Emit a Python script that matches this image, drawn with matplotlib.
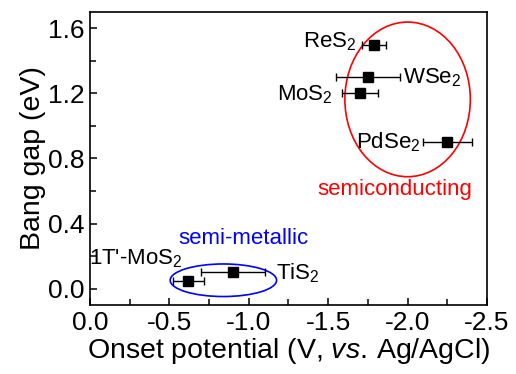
import numpy as np
import matplotlib
matplotlib.use('Agg')
import matplotlib.pyplot as plt
from matplotlib.patches import Ellipse
from matplotlib.ticker import MultipleLocator

plt.rcParams['font.family'] = ['Liberation Sans', 'DejaVu Sans']
plt.rcParams['mathtext.fontset'] = 'custom'
plt.rcParams['mathtext.rm'] = 'Liberation Sans'
plt.rcParams['mathtext.it'] = 'Liberation Sans:italic'
plt.rcParams['mathtext.default'] = 'regular'

materials = ['ReS$_2$', 'WSe$_2$', 'MoS$_2$', 'PdSe$_2$', "1T'-MoS$_2$", 'TiS$_2$']
onset = [-1.79, -1.75, -1.70, -2.25, -0.62, -0.90]
onset_err = [0.075, 0.20, 0.115, 0.155, 0.10, 0.20]
gap = [1.50, 1.30, 1.20, 0.90, 0.05, 0.10]

# text anchor (x, baseline y, ha) for each label
label_pos = [(-1.68, 1.48, 'right'), (-1.97, 1.263, 'left'), (-1.53, 1.157, 'right'),
             (-2.08, 0.863, 'right'), (-0.585, 0.148, 'right'), (-1.17, 0.055, 'left')]

fig = plt.figure(figsize=(5.16, 3.74), dpi=100)
ax = fig.add_axes([0.1744, 0.1845, 0.7694, 0.7835])

ax.errorbar(onset, gap, xerr=onset_err, fmt='s', color='black', ms=7.5,
            ecolor='black', elinewidth=1, capsize=3, capthick=1)

for name, (tx, ty, ha) in zip(materials, label_pos):
    ax.text(tx, ty, name, ha=ha, va='baseline', fontsize=16, clip_on=False)

ax.add_patch(Ellipse((-2.0, 1.163), 0.79, 0.95, fill=False, ec='red', lw=1.2))
ax.add_patch(Ellipse((-0.84, 0.052), 0.67, 0.20, fill=False, ec='blue', lw=1.2))
ax.text(-1.92, 0.61, 'semiconducting', color='red', ha='center', va='center', fontsize=16)
ax.text(-0.965, 0.31, 'semi-metallic', color='blue', ha='center', va='center', fontsize=16)

ax.set_xlim(0, -2.5)
ax.set_ylim(-0.1, 1.7)
ax.xaxis.set_major_locator(MultipleLocator(0.5))
ax.xaxis.set_minor_locator(MultipleLocator(0.25))
ax.yaxis.set_major_locator(MultipleLocator(0.4))
ax.yaxis.set_minor_locator(MultipleLocator(0.2))
ax.xaxis.set_major_formatter(lambda v, p: f'{v:.1f}'.replace('-0.0', '0.0'))
ax.yaxis.set_major_formatter(lambda v, p: f'{v:.1f}')
ax.tick_params(which='both', direction='in', labelsize=19, width=1.1, pad=4)
ax.tick_params(which='major', length=5)
ax.tick_params(which='minor', length=4)
for s in ax.spines.values():
    s.set_linewidth(1.2)

ax.set_xlabel('Onset potential (V, $\\mathit{vs.}\\,$Ag/AgCl)', fontsize=20.5, labelpad=1)
ax.set_ylabel('Bang gap (eV)', fontsize=20.5, labelpad=1)

fig.savefig('out.png', dpi=100)
